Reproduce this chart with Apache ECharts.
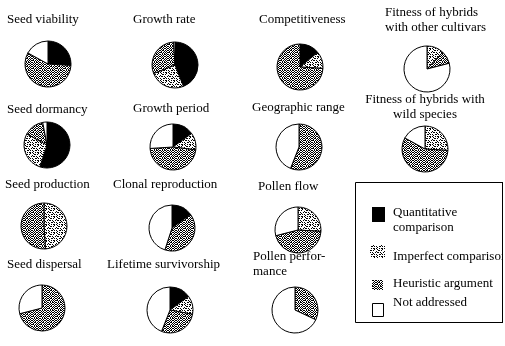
<!DOCTYPE html>
<html>
<head>
<meta charset="utf-8">
<script src="https://cdn.jsdelivr.net/npm/echarts@6/dist/echarts.min.js"></script>
<style>
  html, body { margin: 0; padding: 0; background: #fff; }
  #chart { width: 505px; height: 346px; }
</style>
</head>
<body>
<div id="chart"></div>
<script>
// Evidence categories (legend order, also slice order clockwise from 12 o'clock)
const categories = ['Quantitative comparison', 'Imperfect comparison', 'Heuristic argument', 'Not addressed'];
const legendLabels = ['Quantitative\ncomparison', 'Imperfect comparison', 'Heuristic argument', 'Not addressed'];

// Traits, one pie each
const traits = [
  'Seed viability', 'Growth rate', 'Competitiveness', 'Fitness of hybrids\nwith other cultivars',
  'Seed dormancy', 'Growth period', 'Geographic range', 'Fitness of hybrids with\nwild species',
  'Seed production', 'Clonal reproduction', 'Pollen flow',
  'Seed dispersal', 'Lifetime survivorship', 'Pollen perfor-\nmance'
];

// Share of studies (%) per trait
const quantitative = [26, 44, 14, 0, 55, 15, 0, 0, 0, 15, 0, 0, 15, 0];
const imperfect    = [0, 25, 12, 12, 28, 12, 0, 26, 49, 0, 26, 0, 13, 0];
const heuristic    = [57, 30, 74, 9, 14, 47, 56, 57, 51, 40, 45, 71, 28, 32];
const notAddressed = [17, 1, 0, 79, 3, 26, 44, 17, 0, 45, 29, 29, 44, 68];

// Placement of each pie (centre) and its caption
const layout = [
  { c: [48, 64],  t: [7, 20],    a: 'left' },
  { c: [175, 65], t: [133, 20],  a: 'left' },
  { c: [300, 67], t: [259, 20],  a: 'left' },
  { c: [427, 69], t: [385, 20],  a: 'left' },
  { c: [47, 145], t: [7, 110],   a: 'left' },
  { c: [173, 147], t: [133, 109], a: 'left' },
  { c: [299, 147], t: [252, 108], a: 'left' },
  { c: [425, 149], t: [425, 107], a: 'center' },
  { c: [44, 226], t: [5, 185],   a: 'left' },
  { c: [172, 228], t: [113, 185], a: 'left' },
  { c: [298, 230], t: [258, 187], a: 'left' },
  { c: [42, 308], t: [7, 265],   a: 'left' },
  { c: [170, 310], t: [107, 265], a: 'left' },
  { c: [295, 310], t: [253, 264], a: 'left' }
];

// Bitmap fill patterns
function makePattern(rows) {
  const h = rows.length, w = rows[0].length;
  const cv = document.createElement('canvas');
  cv.width = w; cv.height = h;
  const ctx = cv.getContext('2d');
  ctx.fillStyle = '#fff';
  ctx.fillRect(0, 0, w, h);
  ctx.fillStyle = '#000';
  for (let y = 0; y < h; y++)
    for (let x = 0; x < w; x++)
      if (rows[y][x] === 'X') ctx.fillRect(x, y, 1, 1);
  return { image: cv, repeat: 'repeat' };
}

const imperfectFill = makePattern([
  'X..X.XX.',
  '.X....X.',
  '..XX.X..',
  'X.......',
  '.XX.X..X',
  '.....X..',
  'X..XX.X.',
  '.X......'
]);
const heuristicFill = makePattern([
  'X.X.XX.X',
  '.X.X..X.',
  'X.XX.X.X',
  '.X..X.X.',
  'XX.X.X.X',
  '..X.X.X.',
  'X.X.XX.X',
  '.X.X..X.'
]);

const fills = ['#000', imperfectFill, heuristicFill, '#fff'];
const seriesValues = [quantitative, imperfect, heuristic, notAddressed];

const series = traits.map((name, i) => {
  const data = [];
  categories.forEach((cat, k) => {
    const v = seriesValues[k][i];
    if (v > 0) data.push({ name: cat, value: v, itemStyle: { color: fills[k] } });
  });
  return {
    type: 'pie',
    name: name,
    center: layout[i].c,
    radius: 23,
    startAngle: 90,
    clockwise: true,
    animation: false,
    silent: true,
    label: { show: false },
    labelLine: { show: false },
    itemStyle: { borderColor: '#000', borderWidth: 1 },
    emphasis: { disabled: true },
    data: data
  };
});

const font = '13px "Liberation Serif", "DejaVu Serif", serif';

const graphics = [];
traits.forEach((name, i) => {
  graphics.push({
    type: 'text',
    x: layout[i].t[0],
    y: layout[i].t[1],
    silent: true,
    style: {
      text: name,
      font: font,
      fill: '#000',
      textAlign: layout[i].a,
      textVerticalAlign: 'middle',
      lineHeight: 15
    }
  });
});

// Legend box
graphics.push({
  type: 'rect',
  shape: { x: 355.5, y: 182.5, width: 147, height: 140 },
  style: { fill: '#fff', stroke: '#000', lineWidth: 1 },
  silent: true
});
const legendIcons = [
  { x: 372, y: 207, w: 13, h: 15, ty: 220 },
  { x: 370, y: 245, w: 15, h: 13, ty: 257 },
  { x: 372, y: 280, w: 11, h: 10, ty: 284 },
  { x: 372.5, y: 303.5, w: 11, h: 13, ty: 303 }
];
categories.forEach((cat, k) => {
  const ic = legendIcons[k];
  graphics.push({
    type: 'rect',
    shape: { x: ic.x, y: ic.y, width: ic.w, height: ic.h },
    style: { fill: fills[k], stroke: k === 3 ? '#000' : null, lineWidth: 1 },
    silent: true
  });
  graphics.push({
    type: 'text',
    x: 393,
    y: ic.ty,
    silent: true,
    style: {
      text: legendLabels[k],
      font: font,
      fill: '#000',
      textAlign: 'left',
      textVerticalAlign: 'middle',
      lineHeight: 15
    }
  });
});
// Clip legend text at the right edge of the box
graphics.push({
  type: 'rect',
  shape: { x: 503, y: 180, width: 4, height: 150 },
  style: { fill: '#fff' },
  silent: true
});
graphics.push({
  type: 'line',
  shape: { x1: 502.5, y1: 182, x2: 502.5, y2: 323 },
  style: { stroke: '#000', lineWidth: 1 },
  silent: true
});

const chart = echarts.init(document.getElementById('chart'), null, { renderer: 'canvas' });
chart.setOption({
  backgroundColor: '#fff',
  animation: false,
  series: series,
  graphic: { elements: graphics }
});
</script>
</body>
</html>
